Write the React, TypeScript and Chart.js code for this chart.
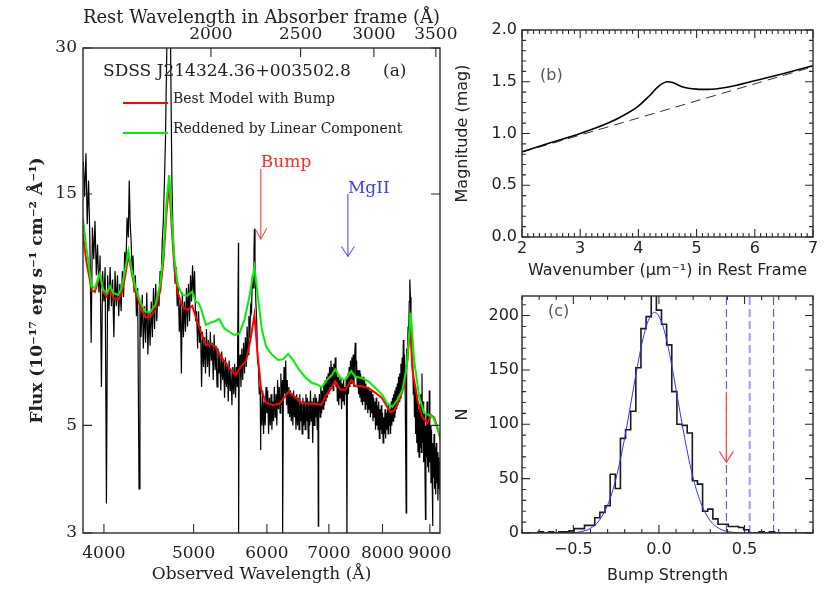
import React, { useEffect, useRef } from "react";
import { Chart, registerables } from "chart.js";

Chart.register(...registerables);

const SERIF = "'DejaVu Serif', serif";
const SANS = "'DejaVu Sans', sans-serif";
const INK = "#222222";
const FRAME = "#2a2a2a";

// ---------------- Panel (a): spectrum ----------------
const objectName = "SDSS J214324.36+003502.8";
const obsTicks = [4000, 5000, 6000, 7000, 8000, 9000];
const restTicks = [2000, 2500, 3000, 3500];
const fluxTicks = [3, 5, 15, 30];
const onePlusZ = 2.61;
const obsRange = [3797, 9230];
const fluxRange = [3, 30];

// observed spectrum [wavelength (Å), flux]
const spectrum: [number, number][] = [
  [3800, 17.5], [3812, 14.8], [3825, 18.2], [3837, 13.0], [3850, 16.0], [3862, 12.2], [3875, 7.4], [3887, 12.8],
  [3900, 11.0], [3912, 13.2], [3925, 10.2], [3937, 11.8], [3950, 9.4], [3962, 11.2], [3975, 6.0], [3987, 10.4],
  [4000, 9.0], [4012, 10.6], [4025, 3.45], [4037, 10.2], [4050, 8.6], [4062, 10.6], [4075, 8.8], [4087, 10.0],
  [4100, 7.6], [4112, 10.4], [4125, 8.8], [4137, 10.2], [4150, 8.4], [4162, 9.8], [4175, 8.6], [4187, 10.4],
  [4200, 9.2], [4212, 11.4], [4225, 10.6], [4237, 13.4], [4250, 12.2], [4260, 16.0], [4270, 13.0], [4280, 12.0],
  [4290, 10.4], [4300, 11.2], [4312, 9.4], [4325, 10.2], [4337, 8.4], [4350, 9.6], [4365, 3.7], [4375, 8.9],
  [4387, 7.6], [4400, 9.3], [4412, 7.2], [4425, 8.8], [4437, 7.4], [4450, 9.4], [4462, 7.0], [4475, 8.6],
  [4487, 7.3], [4500, 9.0], [4512, 7.6], [4525, 9.6], [4537, 7.9], [4550, 9.8], [4562, 8.2], [4575, 9.4],
  [4587, 8.8], [4600, 10.4], [4612, 10.0], [4625, 12.0], [4637, 13.2], [4650, 16.0], [4662, 19.5], [4675, 28.0],
  [4690, 45.0], [4700, 38.0], [4712, 45.0], [4725, 26.0], [4737, 16.0], [4750, 12.4], [4762, 11.4], [4775, 9.8],
  [4787, 10.6], [4800, 8.8], [4812, 9.8], [4825, 7.8], [4837, 9.0], [4850, 6.4], [4862, 9.4], [4875, 7.6],
  [4887, 9.0], [4900, 7.8], [4912, 9.6], [4925, 8.0], [4937, 9.8], [4950, 8.2], [4962, 10.2], [4975, 9.0],
  [4987, 10.7], [5000, 9.2], [5012, 10.4], [5025, 8.2], [5037, 8.6], [5050, 7.2], [5062, 8.6], [5075, 7.4],
  [5087, 8.0], [5100, 6.0], [5112, 7.8], [5125, 6.6], [5137, 7.6], [5150, 6.4], [5162, 7.9], [5175, 6.6],
  [5187, 7.5], [5200, 6.3], [5212, 7.8], [5225, 6.8], [5237, 7.4], [5250, 6.2], [5262, 7.7], [5275, 6.5],
  [5287, 7.3], [5300, 6.0], [5312, 7.2], [5325, 6.4], [5337, 7.0], [5350, 5.9], [5362, 7.1], [5375, 6.2],
  [5387, 6.8], [5400, 5.7], [5412, 6.9], [5425, 6.0], [5437, 6.7], [5450, 5.6], [5462, 6.8], [5475, 5.9],
  [5487, 6.5], [5500, 5.5], [5512, 6.6], [5525, 5.8], [5537, 6.7], [5550, 5.7], [5562, 6.6], [5575, 6.0],
  [5590, 11.9], [5592, 3.0], [5600, 6.4], [5612, 7.0], [5625, 6.0], [5637, 7.2], [5650, 6.2], [5662, 7.4],
  [5675, 6.4], [5687, 7.6], [5700, 6.6], [5712, 8.0], [5725, 7.0], [5737, 8.4], [5750, 7.6], [5762, 8.8],
  [5775, 8.6], [5787, 10.2], [5800, 9.6], [5810, 11.4], [5817, 12.7], [5825, 10.8], [5837, 9.0], [5850, 8.2],
  [5862, 6.8], [5875, 6.6], [5887, 5.8], [5900, 6.0], [5905, 4.45], [5912, 5.6], [5925, 5.0], [5937, 5.9],
  [5950, 4.8], [5962, 5.6], [5975, 5.0], [5987, 6.0], [6000, 5.3], [6012, 5.9], [6025, 4.8], [6037, 5.7],
  [6050, 5.0], [6062, 5.8], [6075, 4.9], [6087, 5.6], [6100, 5.1], [6112, 6.0], [6125, 5.2], [6137, 5.8],
  [6150, 5.0], [6162, 6.2], [6175, 5.4], [6187, 6.0], [6200, 5.3], [6212, 6.4], [6225, 5.5], [6237, 6.2],
  [6240, 3.0], [6250, 5.6], [6262, 6.6], [6275, 5.8], [6287, 6.8], [6300, 5.5], [6312, 6.2], [6325, 5.3],
  [6337, 6.0], [6350, 5.2], [6362, 5.9], [6375, 5.1], [6387, 5.8], [6400, 5.0], [6412, 5.9], [6425, 5.2],
  [6437, 5.7], [6450, 4.9], [6462, 5.8], [6475, 5.0], [6487, 5.7], [6500, 4.9], [6512, 5.8], [6525, 5.1],
  [6537, 5.6], [6550, 4.8], [6562, 5.7], [6575, 5.0], [6587, 5.6], [6600, 4.9], [6612, 5.8], [6625, 5.1],
  [6637, 5.7], [6650, 4.7], [6662, 5.6], [6675, 5.0], [6687, 5.9], [6700, 5.1], [6712, 5.6], [6725, 4.6],
  [6737, 5.7], [6750, 5.0], [6762, 5.8], [6775, 5.2], [6787, 5.7], [6800, 4.9], [6812, 5.6], [6819, 3.1],
  [6825, 5.4], [6837, 5.8], [6850, 5.2], [6862, 6.0], [6875, 5.3], [6887, 5.9], [6900, 5.4], [6912, 6.1],
  [6925, 5.5], [6937, 6.2], [6950, 5.6], [6962, 6.3], [6975, 5.7], [6987, 6.4], [7000, 5.8], [7012, 6.6],
  [7025, 6.0], [7037, 6.8], [7050, 6.0], [7062, 6.6], [7075, 5.9], [7087, 6.7], [7100, 6.1], [7112, 6.9],
  [7125, 6.0], [7137, 6.5], [7150, 5.6], [7162, 6.3], [7175, 5.5], [7187, 6.2], [7200, 5.7], [7212, 6.3],
  [7225, 5.4], [7237, 6.1], [7250, 5.6], [7262, 6.2], [7275, 5.5], [7287, 6.0], [7300, 5.8], [7312, 6.3],
  [7322, 2.9], [7330, 5.9], [7340, 6.4], [7350, 5.8], [7362, 6.6], [7375, 6.0], [7387, 6.8], [7400, 6.1],
  [7412, 6.9], [7425, 6.2], [7437, 7.0], [7450, 6.0], [7462, 6.8], [7475, 7.4], [7487, 6.3], [7500, 6.8],
  [7512, 6.0], [7525, 6.5], [7537, 5.8], [7550, 6.5], [7562, 5.7], [7575, 6.4], [7587, 5.6], [7600, 6.3],
  [7612, 5.5], [7625, 6.3], [7637, 5.6], [7650, 6.2], [7662, 5.4], [7675, 6.1], [7687, 5.5], [7700, 6.0],
  [7712, 5.3], [7725, 6.0], [7737, 5.4], [7750, 5.9], [7762, 5.2], [7775, 5.9], [7787, 5.3], [7800, 5.8],
  [7812, 5.1], [7825, 5.7], [7837, 5.2], [7850, 5.6], [7862, 4.9], [7875, 5.7], [7887, 5.0], [7900, 5.5],
  [7912, 4.9], [7925, 5.6], [7937, 4.7], [7950, 5.4], [7962, 4.9], [7975, 5.5], [7987, 4.8], [8000, 5.3],
  [8012, 4.6], [8025, 5.2], [8037, 4.8], [8050, 5.4], [8062, 4.7], [8075, 5.3], [8087, 4.9], [8100, 5.4],
  [8112, 4.8], [8125, 5.5], [8137, 5.0], [8150, 5.4], [8162, 4.8], [8175, 5.6], [8187, 5.0], [8200, 5.7],
  [8212, 5.1], [8225, 5.8], [8237, 5.2], [8250, 5.9], [8262, 5.3], [8275, 6.0], [8287, 5.4], [8300, 6.1],
  [8312, 5.5], [8325, 6.3], [8337, 5.6], [8350, 6.4], [8362, 5.7], [8375, 6.7], [8387, 5.9], [8400, 6.9],
  [8412, 6.0], [8425, 7.5], [8437, 6.1], [8450, 7.0], [8462, 6.3], [8485, 3.3], [8490, 6.6], [8500, 7.2],
  [8512, 7.0], [8525, 8.0], [8537, 7.6], [8550, 9.0], [8562, 10.0], [8575, 9.2], [8587, 8.0], [8600, 7.2],
  [8612, 6.6], [8625, 6.8], [8637, 5.8], [8650, 6.2], [8662, 5.2], [8675, 6.0], [8687, 4.8], [8700, 5.8],
  [8712, 4.6], [8725, 5.6], [8737, 4.4], [8750, 5.4], [8762, 4.3], [8775, 5.5], [8787, 4.5], [8800, 5.8],
  [8812, 4.4], [8825, 6.4], [8837, 4.6], [8850, 5.6], [8862, 4.2], [8875, 5.3], [8887, 4.4], [8903, 3.2],
  [8912, 5.0], [8925, 4.3], [8937, 5.6], [8950, 4.1], [8962, 5.2], [8975, 4.0], [8987, 5.9], [9000, 4.2],
  [9012, 5.0], [9025, 3.8], [9037, 4.9], [9050, 4.0], [9061, 3.1], [9070, 4.6], [9082, 3.9], [9095, 4.8],
  [9107, 3.7], [9120, 4.5], [9132, 3.6], [9145, 4.6], [9157, 3.8], [9170, 4.4], [9182, 3.5], [9195, 4.3],
  [9207, 3.7], [9220, 4.2], [9232, 3.6], [9245, 4.1], [9257, 3.35], [9270, 4.0], [9282, 3.8], [9292, 4.1],
];

// best model with bump (red)
const modelWithBump: [number, number][] = [
  [3795, 12.4], [3832, 10.81], [3880, 9.51], [3911, 9.42], [3945, 9.97], [3967, 10.12], [3993, 9.38], [4027, 9.22],
  [4061, 9.56], [4095, 9.16], [4146, 9.07], [4180, 9.38], [4216, 10.12], [4251, 11.23], [4287, 10.31], [4323, 9.51],
  [4378, 8.8], [4433, 8.37], [4489, 8.37], [4546, 8.65], [4603, 9.51], [4642, 11.14], [4673, 13.7], [4705, 15.8],
  [4737, 12.64], [4768, 10.46], [4808, 9.38], [4861, 8.8], [4922, 8.65], [4984, 8.82], [5026, 8.38], [5090, 7.8],
  [5154, 7.33], [5219, 7.36], [5286, 7.26], [5351, 6.93], [5419, 6.72], [5487, 6.51], [5556, 6.35], [5626, 6.62],
  [5697, 6.79], [5759, 7.5], [5817, 8.45], [5866, 6.93], [5916, 5.92], [5990, 5.56], [6092, 5.51], [6194, 5.54],
  [6272, 5.73], [6336, 5.87], [6431, 5.73], [6540, 5.56], [6650, 5.54], [6760, 5.54], [6877, 5.51], [6935, 5.73],
  [7022, 5.92], [7111, 6.17], [7203, 5.92], [7291, 5.92], [7401, 6.2], [7476, 6.03], [7603, 6.03], [7735, 5.96],
  [7868, 5.83], [7994, 5.69], [8095, 5.46], [8163, 5.32], [8253, 5.39], [8335, 5.64], [8440, 6.01], [8511, 6.82],
  [8570, 8.0], [8618, 6.51], [8727, 5.64], [8837, 5.19], [8948, 5.06], [9023, 5.25], [9099, 5.19], [9176, 4.92],
  [9277, 4.55], [9292, 4.5],
];

// reddened by linear component (green)
const linearReddened: [number, number][] = [
  [3795, 13.4], [3832, 11.5], [3880, 9.67], [3911, 9.6], [3960, 10.3], [3993, 9.51], [4027, 9.37], [4061, 9.69],
  [4095, 9.37], [4146, 9.29], [4180, 9.6], [4216, 10.46], [4251, 11.46], [4287, 10.46], [4323, 9.67], [4378, 9.0],
  [4433, 8.58], [4489, 8.56], [4546, 8.86], [4603, 9.82], [4642, 11.5], [4673, 14.37], [4705, 16.41], [4737, 13.25],
  [4768, 10.97], [4808, 9.74], [4861, 9.29], [4922, 9.26], [4984, 9.44], [5026, 9.0], [5064, 8.93], [5090, 8.73],
  [5128, 8.33], [5154, 8.06], [5219, 8.15], [5262, 8.19], [5329, 8.28], [5396, 7.93], [5464, 7.8], [5533, 7.68],
  [5603, 7.74], [5674, 8.25], [5745, 9.22], [5817, 10.6], [5866, 9.22], [5926, 7.87], [5990, 7.26], [6066, 7.02],
  [6168, 6.82], [6245, 6.84], [6325, 7.02], [6404, 6.82], [6485, 6.55], [6595, 6.3], [6706, 6.12], [6819, 6.06],
  [6877, 5.99], [6964, 6.2], [7052, 6.35], [7111, 6.52], [7203, 6.26], [7291, 6.2], [7401, 6.47], [7476, 6.3],
  [7603, 6.26], [7735, 6.15], [7868, 5.96], [7994, 5.78], [8095, 5.55], [8197, 5.46], [8300, 5.64], [8405, 5.92],
  [8496, 6.6], [8582, 8.53], [8654, 6.82], [8764, 5.73], [8874, 5.3], [8988, 5.25], [9077, 5.19], [9176, 4.92],
  [9277, 4.61], [9292, 4.58],
];

const bumpArrow = { wave: 5910, from: 16.9, to: 12.1 };
const mg2Arrow = { wave: 7340, from: 15.0, to: 11.15 };

// ---------------- Panel (b): extinction curve ----------------
const wavenumberTicks = [2, 3, 4, 5, 6, 7];
const magTicks = [0, 0.5, 1.0, 1.5, 2.0];
const extinctionCurve: [number, number][] = [
  [2, 0.823], [2.5, 0.913], [3, 1.0], [3.5, 1.106], [3.75, 1.177], [4.0, 1.265], [4.2, 1.37], [4.35, 1.458],
  [4.5, 1.5], [4.6, 1.49], [4.75, 1.452], [5.0, 1.429], [5.2, 1.426], [5.5, 1.445], [6.0, 1.51], [6.5, 1.58], [7.0, 1.655],
];
const linearComponent: [number, number][] = [[2, 0.82], [7, 1.645]];

// ---------------- Panel (c): bump strength histogram ----------------
const strengthTicks = [-0.5, 0, 0.5];
const countTicks = [0, 50, 100, 150, 200];
const histogram: [number, number][] = [
  [-0.81, 0], [-0.78, 0], [-0.75, 0], [-0.72, 0], [-0.69, 1], [-0.66, 0], [-0.63, 1], [-0.6, 0], [-0.57, 1],
  [-0.54, 1], [-0.51, 2], [-0.48, 4], [-0.45, 4], [-0.42, 7], [-0.39, 7], [-0.36, 14], [-0.33, 19], [-0.3, 25],
  [-0.27, 54], [-0.24, 41], [-0.21, 87], [-0.18, 95], [-0.15, 112], [-0.12, 152], [-0.09, 188], [-0.06, 199],
  [-0.03, 232], [0, 205], [0.03, 192], [0.06, 173], [0.09, 130], [0.12, 100], [0.15, 99], [0.18, 92], [0.21, 48],
  [0.24, 45], [0.27, 20], [0.3, 22], [0.33, 13], [0.36, 8], [0.39, 8], [0.42, 6], [0.45, 6], [0.48, 5], [0.51, 3],
  [0.54, 0], [0.57, 0], [0.6, 1], [0.63, 0], [0.66, 1], [0.69, 0], [0.72, 0], [0.75, 0], [0.78, 0], [0.81, 0],
  [0.84, 0], [0.87, 0], [0.9, 0], [0.93, 0],
];
const gaussFit: [number, number][] = [
  [-0.8, 0], [-0.55, 0.1], [-0.5, 0.4], [-0.45, 1.4], [-0.4, 4.3], [-0.35, 11.2], [-0.3, 25.6], [-0.275, 36.6],
  [-0.25, 50.6], [-0.225, 67.8], [-0.2, 87.6], [-0.175, 109.5], [-0.15, 132], [-0.125, 154], [-0.1, 174],
  [-0.075, 189.5], [-0.05, 199.5], [-0.025, 203], [0, 199.5], [0.025, 189.5], [0.05, 174], [0.075, 154], [0.1, 132],
  [0.125, 109.5], [0.15, 87.6], [0.175, 67.8], [0.2, 50.6], [0.225, 36.6], [0.25, 25.6], [0.3, 11.2], [0.35, 4.3],
  [0.4, 1.4], [0.45, 0.4], [0.5, 0.1], [0.9, 0],
];
const thresholds = [0.394, 0.53, 0.67];
const measuredArrow = { strength: 0.394, from: 130, to: 65 };

// ---------------- helpers ----------------
const pts = (arr: [number, number][]) => arr.map(([x, y]) => ({ x, y }));
const range = (a: number, b: number, step: number) => {
  const out: number[] = [];
  for (let v = a; v <= b + 1e-9; v += step) out.push(Math.round(v * 1000) / 1000);
  return out;
};

type Side = { id: string; major: number[]; minor?: number[] };
function framePlugin(
  id: string,
  sides: { bottom?: Side; top?: Side; left?: Side; right?: Side },
  majorLen: number,
  minorLen: number
) {
  return {
    id,
    afterDraw(chart: any) {
      const { ctx, chartArea: a, scales } = chart;
      ctx.save();
      ctx.strokeStyle = FRAME;
      ctx.lineWidth = 1.4;
      ctx.strokeRect(a.left, a.top, a.right - a.left, a.bottom - a.top);
      ctx.lineWidth = 1.1;
      const draw = (side: "bottom" | "top" | "left" | "right", s: Side | undefined) => {
        if (!s) return;
        const sc = scales[s.id];
        const list: [number, number][] = [
          ...(s.minor || []).map((v) => [v, minorLen] as [number, number]),
          ...s.major.map((v) => [v, majorLen] as [number, number]),
        ];
        ctx.beginPath();
        for (const [v, len] of list) {
          const p = sc.getPixelForValue(v);
          if (side === "bottom" || side === "top") {
            if (p < a.left - 0.5 || p > a.right + 0.5) continue;
            const y0 = side === "bottom" ? a.bottom : a.top;
            const y1 = side === "bottom" ? a.bottom - len : a.top + len;
            ctx.moveTo(p, y0);
            ctx.lineTo(p, y1);
          } else {
            if (p < a.top - 0.5 || p > a.bottom + 0.5) continue;
            const x0 = side === "left" ? a.left : a.right;
            const x1 = side === "left" ? a.left + len : a.right - len;
            ctx.moveTo(x0, p);
            ctx.lineTo(x1, p);
          }
        }
        ctx.stroke();
      };
      draw("bottom", sides.bottom);
      draw("top", sides.top);
      draw("left", sides.left);
      draw("right", sides.right);
      ctx.restore();
    },
  };
}

function arrowDown(ctx: CanvasRenderingContext2D, x: number, y0: number, y1: number, hw: number, hh: number) {
  ctx.beginPath();
  ctx.moveTo(x, y0);
  ctx.lineTo(x, y1);
  ctx.moveTo(x - hw, y1 - hh);
  ctx.lineTo(x, y1);
  ctx.lineTo(x + hw, y1 - hh);
  ctx.stroke();
}

const fixedTicks = (vals: number[]) => (s: any) => {
  s.ticks = vals.map((v) => ({ value: v }));
};
const fitH = (h: number) => (s: any) => {
  s.height = h;
  s.paddingLeft = 0;
  s.paddingRight = 0;
};
const fitW = (w: number) => (s: any) => {
  s.width = w;
  s.paddingTop = 0;
  s.paddingBottom = 0;
};
const noGrid = { display: false, drawTicks: false, tickLength: 0 };

// ---------------- chart configs ----------------
function configA(): any {
  const annot = {
    id: "annotA",
    afterDatasetsDraw(chart: any) {
      const { ctx, chartArea: a, scales } = chart;
      const x = scales.x;
      const y = scales.y;
      ctx.save();
      ctx.textBaseline = "middle";
      ctx.textAlign = "left";
      ctx.fillStyle = INK;
      ctx.font = `17px ${SERIF}`;
      ctx.fillText(objectName, a.left + 20, a.top + 24);
      ctx.fillText("(a)", a.left + 300, a.top + 24);
      // legend
      ctx.lineWidth = 2;
      ctx.strokeStyle = "#ff0000";
      ctx.beginPath();
      ctx.moveTo(a.left + 40, a.top + 55);
      ctx.lineTo(a.left + 85, a.top + 55);
      ctx.stroke();
      ctx.strokeStyle = "#00f000";
      ctx.beginPath();
      ctx.moveTo(a.left + 40, a.top + 85);
      ctx.lineTo(a.left + 85, a.top + 85);
      ctx.stroke();
      ctx.font = `14px ${SERIF}`;
      ctx.fillStyle = INK;
      ctx.fillText("Best Model with Bump", a.left + 90, a.top + 51);
      ctx.fillText("Reddened by Linear Component", a.left + 90, a.top + 81);
      // arrows
      ctx.lineWidth = 1;
      const bx = x.getPixelForValue(bumpArrow.wave);
      const bTop = y.getPixelForValue(bumpArrow.from);
      ctx.strokeStyle = "#ff2a2a";
      arrowDown(ctx, bx, bTop, y.getPixelForValue(bumpArrow.to), 6, 11);
      ctx.fillStyle = "#ff2a2a";
      ctx.font = `17px ${SERIF}`;
      ctx.fillText("Bump", bx, bTop - 6);
      const mx = x.getPixelForValue(mg2Arrow.wave);
      const mTop = y.getPixelForValue(mg2Arrow.from);
      ctx.strokeStyle = "#3a3aff";
      arrowDown(ctx, mx, mTop, y.getPixelForValue(mg2Arrow.to), 6.5, 10);
      ctx.fillStyle = "#3a3aff";
      ctx.fillText("MgII", mx, mTop - 5);
      ctx.restore();
    },
  };
  const frame = framePlugin(
    "frameA",
    {
      bottom: { id: "x", major: obsTicks },
      top: { id: "x2", major: restTicks },
      left: { id: "y", major: fluxTicks },
      right: { id: "y", major: fluxTicks },
    },
    9,
    4
  );
  const tickFont = { family: SERIF, size: 17 };
  return {
    type: "line",
    data: {
      datasets: [
        { data: pts(linearReddened), borderColor: "#00f000", borderWidth: 2, order: 0 },
        { data: pts(modelWithBump), borderColor: "#ff0000", borderWidth: 2, order: 1 },
        { data: pts(spectrum), borderColor: "#000000", borderWidth: 1.2, order: 2 },
      ],
    },
    options: {
      animation: false,
      responsive: false,
      maintainAspectRatio: false,
      events: [],
      layout: { padding: { left: 0, right: 20, top: 0, bottom: 0 }, autoPadding: false },
      elements: { point: { radius: 0 }, line: { tension: 0 } },
      plugins: { legend: { display: false }, tooltip: { enabled: false } },
      scales: {
        x: {
          type: "logarithmic",
          position: "bottom",
          min: obsRange[0],
          max: obsRange[1],
          afterBuildTicks: fixedTicks(obsTicks),
          afterFit: fitH(60),
          grid: noGrid,
          border: { display: false },
          ticks: { autoSkip: false, maxRotation: 0, minRotation: 0, padding: 10, color: INK, font: tickFont, callback: (v: any) => String(v) },
          title: { display: true, text: "Observed Wavelength (Å)", color: INK, font: { family: SERIF, size: 17 }, padding: { top: 0, bottom: 8 } },
        },
        x2: {
          type: "logarithmic",
          position: "top",
          min: obsRange[0] / onePlusZ,
          max: obsRange[1] / onePlusZ,
          afterBuildTicks: fixedTicks(restTicks),
          afterFit: fitH(48),
          grid: noGrid,
          border: { display: false },
          ticks: { autoSkip: false, maxRotation: 0, minRotation: 0, padding: 3, color: INK, font: tickFont, callback: (v: any) => String(v) },
          title: { display: true, text: "Rest Wavelength in Absorber frame (Å)", color: INK, font: { family: SERIF, size: 18 }, padding: { top: 8, bottom: 0 } },
        },
        y: {
          type: "logarithmic",
          position: "left",
          min: fluxRange[0],
          max: fluxRange[1],
          afterBuildTicks: fixedTicks(fluxTicks),
          afterFit: fitW(83),
          grid: noGrid,
          border: { display: false },
          ticks: { autoSkip: false, padding: 6, color: INK, font: tickFont, callback: (v: any) => String(v) },
          title: { display: true, text: "Flux (10⁻¹⁷ erg s⁻¹ cm⁻² Å⁻¹)", color: INK, font: { family: SERIF, size: 17, weight: "bold" }, padding: { top: 27, bottom: 0 } },
        },
      },
    },
    plugins: [annot, frame],
  };
}

function configB(): any {
  const annot = {
    id: "annotB",
    afterDatasetsDraw(chart: any) {
      const { ctx, chartArea: a } = chart;
      ctx.save();
      ctx.fillStyle = "#555555";
      ctx.font = `16px ${SANS}`;
      ctx.textBaseline = "middle";
      ctx.fillText("(b)", a.left + 18, a.top + 46);
      ctx.restore();
    },
  };
  const frame = framePlugin(
    "frameB",
    {
      bottom: { id: "x", major: wavenumberTicks, minor: range(2, 7, 0.1) },
      top: { id: "x", major: wavenumberTicks, minor: range(2, 7, 0.1) },
      left: { id: "y", major: magTicks, minor: range(0, 2, 0.1) },
      right: { id: "y", major: magTicks, minor: range(0, 2, 0.1) },
    },
    8,
    4
  );
  const f = { family: SANS, size: 16 };
  return {
    type: "line",
    data: {
      datasets: [
        { data: pts(extinctionCurve), borderColor: "#000000", borderWidth: 1.6, cubicInterpolationMode: "monotone" },
        { data: pts(linearComponent), borderColor: "#333333", borderWidth: 1, borderDash: [10, 6] },
      ],
    },
    options: {
      animation: false,
      responsive: false,
      maintainAspectRatio: false,
      events: [],
      layout: { padding: { left: 0, right: 17, top: 30, bottom: 0 }, autoPadding: false },
      elements: { point: { radius: 0 } },
      plugins: { legend: { display: false }, tooltip: { enabled: false } },
      scales: {
        x: {
          type: "linear",
          min: 2,
          max: 7,
          afterBuildTicks: fixedTicks(wavenumberTicks),
          afterFit: fitH(53),
          grid: noGrid,
          border: { display: false },
          ticks: { autoSkip: false, maxRotation: 0, padding: 2, color: INK, font: f, callback: (v: any) => String(v) },
          title: { display: true, text: "Wavenumber (μm⁻¹) in Rest Frame", color: INK, font: f, padding: { top: 0, bottom: 10 } },
        },
        y: {
          type: "linear",
          min: 0,
          max: 2,
          afterBuildTicks: fixedTicks(magTicks),
          afterFit: fitW(77),
          grid: noGrid,
          border: { display: false },
          ticks: { autoSkip: false, padding: 5, color: INK, font: f, callback: (v: any) => Number(v).toFixed(1) },
          title: { display: true, text: "Magnitude (mag)", color: INK, font: f, padding: { top: 8, bottom: 0 } },
        },
      },
    },
    plugins: [annot, frame],
  };
}

function configC(): any {
  const annot = {
    id: "annotC",
    afterDatasetsDraw(chart: any) {
      const { ctx, chartArea: a, scales } = chart;
      ctx.save();
      ctx.fillStyle = "#555555";
      ctx.font = `16px ${SANS}`;
      ctx.textBaseline = "middle";
      ctx.fillText("(c)", a.left + 26, a.top + 16);
      ctx.strokeStyle = "#ff4a4a";
      ctx.lineWidth = 1.2;
      const ax = scales.x.getPixelForValue(measuredArrow.strength);
      arrowDown(ctx, ax, scales.y.getPixelForValue(measuredArrow.from), scales.y.getPixelForValue(measuredArrow.to), 7, 11);
      ctx.restore();
    },
  };
  const frame = framePlugin(
    "frameC",
    {
      bottom: { id: "x", major: strengthTicks, minor: range(-0.8, 0.9, 0.1) },
      top: { id: "x", major: strengthTicks, minor: range(-0.8, 0.9, 0.1) },
      left: { id: "y", major: countTicks, minor: range(0, 210, 10) },
      right: { id: "y", major: countTicks, minor: range(0, 210, 10) },
    },
    8,
    4
  );
  const f = { family: SANS, size: 16 };
  const vlines = thresholds.map((t, i) => ({
    data: [{ x: t, y: 0 }, { x: t, y: 218 }],
    borderColor: i === 1 ? "#9a9aff" : "#4040ff",
    borderWidth: i === 1 ? 2 : 1,
    borderDash: [8, 4],
  }));
  return {
    type: "line",
    data: {
      datasets: [
        { data: pts(gaussFit), borderColor: "#3030ff", borderWidth: 1, cubicInterpolationMode: "monotone" },
        { data: pts(histogram), borderColor: "#1a1a1a", borderWidth: 1.6, stepped: "middle" },
        ...vlines,
      ],
    },
    options: {
      animation: false,
      responsive: false,
      maintainAspectRatio: false,
      events: [],
      layout: { padding: { left: 0, right: 17, top: 6, bottom: 0 }, autoPadding: false },
      elements: { point: { radius: 0 } },
      plugins: { legend: { display: false }, tooltip: { enabled: false } },
      scales: {
        x: {
          type: "linear",
          min: -0.8,
          max: 0.9,
          afterBuildTicks: fixedTicks(strengthTicks),
          afterFit: fitH(60),
          grid: noGrid,
          border: { display: false },
          ticks: { autoSkip: false, maxRotation: 0, padding: 7, color: INK, font: f, callback: (v: any) => Number(v).toFixed(1).replace("-", "−") },
          title: { display: true, text: "Bump Strength", color: INK, font: f, padding: { top: 0, bottom: 8 } },
        },
        y: {
          type: "linear",
          min: 0,
          max: 218,
          afterBuildTicks: fixedTicks(countTicks),
          afterFit: fitW(77),
          grid: noGrid,
          border: { display: false },
          ticks: { autoSkip: false, padding: 3, color: INK, font: f, callback: (v: any) => String(v) },
          title: { display: true, text: "N", color: INK, font: f, padding: { top: 8, bottom: 0 } },
        },
      },
    },
    plugins: [annot, frame],
  };
}

export default function App() {
  const aRef = useRef<HTMLCanvasElement>(null);
  const bRef = useRef<HTMLCanvasElement>(null);
  const cRef = useRef<HTMLCanvasElement>(null);

  useEffect(() => {
    const charts = [
      new Chart(aRef.current as HTMLCanvasElement, configA()),
      new Chart(bRef.current as HTMLCanvasElement, configB()),
      new Chart(cRef.current as HTMLCanvasElement, configC()),
    ];
    return () => charts.forEach((c) => c.destroy());
  }, []);

  return (
    <div style={{ position: "fixed", left: 0, top: 0, width: 830, height: 593, background: "#ffffff", overflow: "hidden" }}>
      <canvas ref={aRef} width={460} height={593} style={{ position: "absolute", left: 0, top: 0, width: 460, height: 593 }} />
      <canvas ref={bRef} width={385} height={290} style={{ position: "absolute", left: 445, top: 0, width: 385, height: 290 }} />
      <canvas ref={cRef} width={385} height={303} style={{ position: "absolute", left: 445, top: 290, width: 385, height: 303 }} />
    </div>
  );
}
